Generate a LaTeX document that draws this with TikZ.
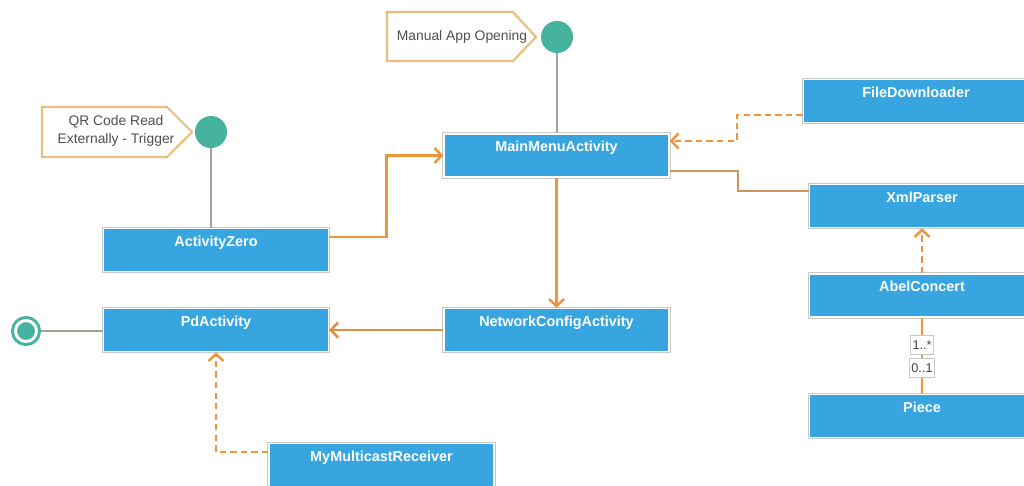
\documentclass[tikz,border=0pt]{standalone}
\usepackage{fontspec}
\setmainfont{Liberation Sans}
\usetikzlibrary{arrows.meta}
\definecolor{boxblue}{HTML}{36A5E0}
\definecolor{boxrule}{HTML}{C8C8C8}
\definecolor{linkorange}{HTML}{F0953B}
\definecolor{linkbrown}{HTML}{E08D3F}
\definecolor{linktan}{HTML}{D0935A}
\definecolor{stemgray}{HTML}{A9A195}
\definecolor{stateteal}{HTML}{45B39D}
\definecolor{noterule}{HTML}{E6BF7C}
\definecolor{notetext}{HTML}{505050}
\tikzstyle{classbox}=[rectangle, fill=boxblue, draw=white, line width=0.9pt, minimum width=4.5cm, minimum height=0.86cm, inner sep=0pt, preaction={draw=boxrule, line width=1.8pt}]
\tikzstyle{classname}=[anchor=center, yshift=-0.25cm, text=white, font=\bfseries\fontsize{8.2}{9.5}\selectfont, text height=1.6ex, text depth=0.3ex]
\tikzstyle{initial}=[circle, fill=stateteal, minimum size=0.64cm, inner sep=0pt]
\tikzstyle{final}=[circle, fill=stateteal, draw=stateteal, double=white, double distance=1.7pt, line width=1.7pt, minimum size=0.42cm, inner sep=0pt, outer sep=2.6pt]
\tikzstyle{note}=[text=notetext, font=\fontsize{7.9}{10.2}\selectfont, align=center]
\tikzstyle{noteline}=[draw=noterule, line width=1.2pt, line join=miter]
\tikzstyle{stem}=[draw=stemgray, line width=1.4pt]
\tikzstyle{flow}=[draw=linkorange, line width=1.4pt, -{Straight Barb[length=4pt, width=8.6pt]}]
\tikzstyle{realize}=[flow, dash pattern=on 3.6pt off 2.4pt]
\tikzstyle{assoc}=[draw=linktan, line width=1.4pt]
\tikzstyle{mult}=[draw=boxrule, line width=0.6pt, fill=white, text=black!75, font=\fontsize{7.2}{8}\selectfont, minimum width=0.46cm, minimum height=0.38cm, inner sep=1pt]
\begin{document}
\begin{tikzpicture}[x=0.02cm, y=-0.02cm]
  \useasboundingbox[fill=white] (0,0) rectangle (1024,485);

  \node[classbox, label={[classname]north:MainMenuActivity}] (mainmenu) at (556.5,155.5) {};
  \node[classbox, label={[classname]north:ActivityZero}] (zero) at (216,250) {};
  \node[classbox, label={[classname]north:PdActivity}] (pd) at (216,330) {};
  \node[classbox, label={[classname]north:NetworkConfigActivity}] (netconfig) at (556.5,330) {};
  \node[classbox, label={[classname]north:MyMulticastReceiver}] (multicast) at (381.5,465) {};
  \node[classbox, label={[classname]north:FileDownloader}] (downloader) at (916,101) {};
  \node[classbox, label={[classname]north:XmlParser}] (xmlparser) at (922,206) {};
  \node[classbox, label={[classname]north:AbelConcert}] (concert) at (922,295.5) {};
  \node[classbox, label={[classname]north:Piece}] (piece) at (922,416) {};

  \draw[noteline] (387,12) -- (513,12) -- (536,37) -- (513,61) -- (387,61) -- cycle;
  \node[note] (manualnote) at (462,37) {Manual App Opening};
  \draw[noteline] (42,107) -- (167,107) -- (192,132) -- (167,157) -- (42,157) -- cycle;
  \node[note] (qrnote) at (116,131) {QR Code Read\\Externally - Trigger};

  \node[initial] (manualstart) at (557,37) {};
  \node[initial] (qrstart) at (211,132) {};
  \node[final] (finish) at (26,331) {};

  \draw[stem] (manualstart) -- (manualstart |- mainmenu.north);
  \draw[stem] (qrstart) -- (qrstart |- zero.north);
  \draw[stem] (finish) -- (finish -| pd.west);

  \draw[flow] ([yshift=0.26cm]zero.east) -- ++(57,0) |- (mainmenu.west);
  \draw[flow] (mainmenu.south) -- (netconfig.north);
  \draw[flow, draw=linkbrown] (netconfig.west) -- (pd.east);
  \draw[realize] ([yshift=-0.28cm]downloader.west) -- ++(-66,0) |- ([yshift=0.29cm]mainmenu.east);
  \draw[assoc] ([yshift=-0.31cm]mainmenu.east) -- ++(68,0) |- ([yshift=0.3cm]xmlparser.west);
  \draw[realize] (concert.north) -- (xmlparser.south);
  \draw[realize] ([yshift=0.26cm]multicast.west) -| (pd.south);
  \draw[assoc, draw=linkorange] (concert.south) -- (piece.north)
    node[mult, pos=0.36] (many) {1..*}
    node[mult, pos=0.66] (optional) {0..1};
\end{tikzpicture}
\end{document}
